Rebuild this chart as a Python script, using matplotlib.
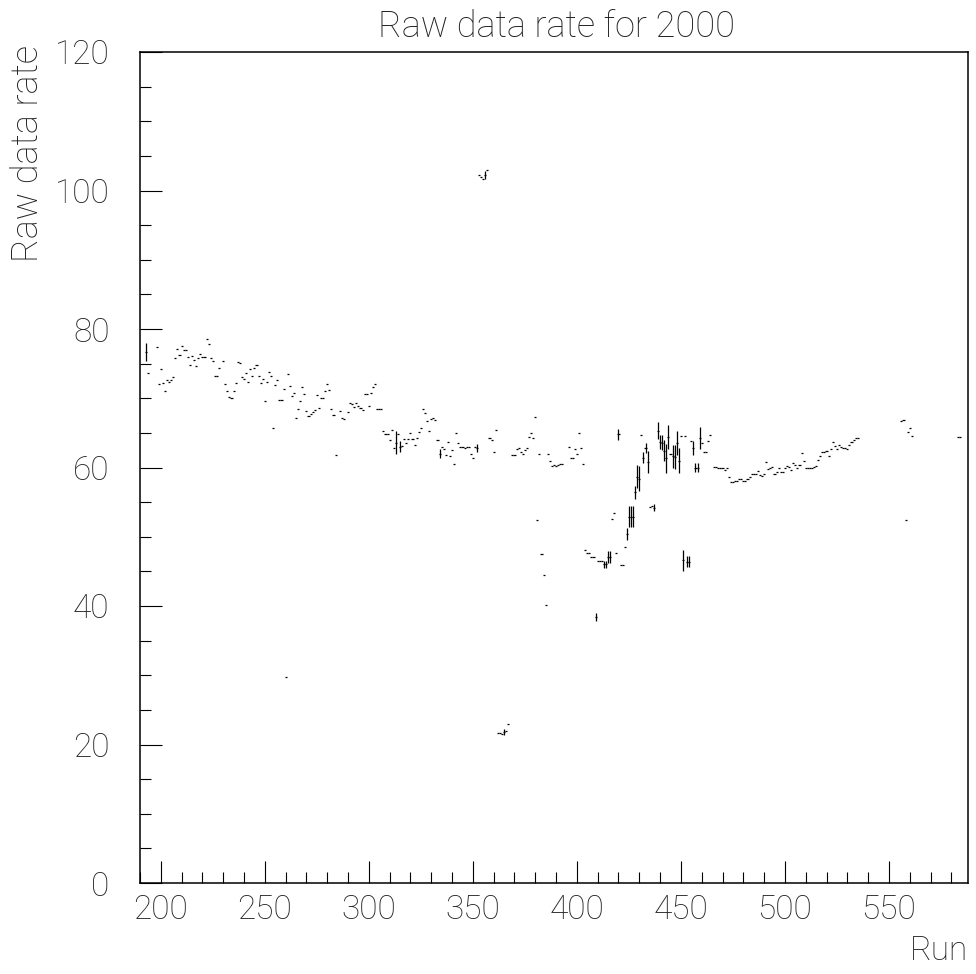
import matplotlib

matplotlib.use("Agg")

import matplotlib.pyplot as plt
import numpy as np
from matplotlib.ticker import MultipleLocator

plt.rcParams["font.family"] = ["Roboto", "DejaVu Sans"]
plt.rcParams["font.weight"] = "light"

# run number, raw data rate, error (0 = no visible bar)
runs = [
    193, 194, 198, 199, 200, 201, 202, 203, 204, 205, 206, 207, 208, 209, 210,
    211, 212, 213, 214, 215, 216, 217, 218, 219, 220, 221, 222, 223, 224, 225,
    226, 227, 228, 230, 231, 232, 233, 234, 235, 236, 237, 238, 239, 240, 241,
    242, 243, 244, 245, 246, 247, 248, 249, 250, 251, 252, 253, 254, 255, 256,
    257, 258, 259, 260, 261, 262, 263, 264, 265, 266, 267, 268, 269, 270, 271,
    272, 273, 274, 275, 276, 277, 278, 279, 280, 281, 282, 283, 284, 286, 287,
    288, 290, 291, 292, 293, 294, 295, 296, 297, 298, 299, 300, 301, 302, 303,
    304, 305, 306, 307, 308, 309, 310, 311, 312, 313, 314, 315, 316, 317, 318,
    319, 320, 321, 322, 323, 324, 325, 326, 327, 328, 329, 330, 331, 332, 333,
    334, 335, 336, 337, 338, 339, 340, 341, 342, 343, 344, 345, 346, 347, 348,
    349, 350, 351, 352, 353, 354, 355, 356, 357, 358, 359, 360, 361, 362, 363,
    364, 365, 366, 367, 369, 370, 371, 372, 373, 374, 375, 376, 377, 378, 379,
    380, 381, 382, 383, 384, 385, 386, 387, 388, 389, 390, 391, 392, 393, 396,
    397, 398, 399, 400, 401, 402, 403, 404, 405, 406, 407, 408, 409, 410, 411,
    412, 413, 414, 415, 416, 417, 418, 419, 420, 421, 422, 423, 424, 425, 426,
    427, 428, 429, 430, 431, 432, 433, 434, 435, 436, 437, 439, 440, 441, 442,
    443, 444, 445, 446, 447, 448, 449, 450, 451, 452, 453, 454, 455, 456, 457,
    458, 459, 460, 461, 462, 463, 464, 466, 467, 468, 469, 470, 471, 472, 473,
    474, 475, 476, 477, 478, 479, 480, 481, 482, 483, 484, 485, 486, 487, 488,
    489, 490, 491, 492, 493, 494, 495, 496, 497, 498, 499, 500, 501, 502, 503,
    504, 505, 506, 507, 508, 509, 510, 511, 512, 513, 514, 515, 516, 517, 518,
    519, 520, 521, 522, 523, 524, 525, 526, 527, 528, 529, 530, 531, 532, 533,
    534, 535, 556, 557, 558, 559, 560, 561, 583, 584,
]
rates = [
    76.7, 73.7, 77.4, 72.1, 74.2, 72.2, 71.1, 72.6, 72.4, 72.7, 73.1, 75.8, 77.1, 76.2, 77.6,
    77.0, 76.9, 76.0, 74.8, 76.1, 75.5, 74.7, 75.8, 76.4, 75.9, 76.0, 78.6, 77.8, 75.8, 75.4,
    73.2, 73.2, 74.3, 75.4, 72.1, 71.0, 70.2, 70.1, 71.1, 72.2, 75.2, 75.1, 73.0, 72.8, 73.7,
    72.4, 74.2, 73.2, 74.4, 74.8, 73.2, 72.2, 72.8, 69.6, 72.3, 73.8, 73.2, 65.7, 71.9, 72.6,
    69.8, 69.7, 71.3, 29.8, 73.5, 71.8, 70.3, 70.8, 67.1, 68.4, 69.6, 71.6, 70.6, 68.1, 67.4,
    67.7, 68.0, 68.3, 70.4, 68.6, 70.1, 70.1, 71.1, 72.0, 71.2, 68.5, 67.6, 61.8, 68.2, 67.2,
    67.0, 68.0, 69.3, 69.2, 68.8, 69.3, 68.9, 68.6, 68.3, 70.6, 70.6, 68.9, 70.8, 71.6, 72.0,
    68.5, 68.5, 68.5, 65.3, 64.9, 64.9, 64.0, 65.4, 62.8, 63.6, 64.9, 63.0, 63.1, 64.1, 63.6,
    64.1, 65.0, 64.1, 63.2, 64.2, 65.1, 65.7, 68.4, 67.9, 66.7, 65.2, 67.0, 67.2, 66.8, 64.0,
    62.0, 62.9, 62.6, 61.8, 63.7, 61.6, 62.5, 60.5, 65.0, 63.6, 63.0, 62.9, 62.8, 63.0, 62.9,
    61.9, 61.4, 62.9, 62.8, 102.3, 101.9, 101.6, 102.2, 102.9, 64.3, 63.9, 62.2, 65.4, 21.7, 21.6,
    21.5, 21.8, 22.0, 23.0, 61.8, 61.8, 62.6, 62.8, 62.2, 61.9, 62.5, 62.8, 64.4, 65.0, 64.3,
    67.3, 52.4, 61.9, 47.5, 44.5, 40.2, 62.0, 61.0, 60.2, 60.4, 60.2, 60.4, 60.5, 60.5, 63.0,
    61.3, 61.3, 62.7, 62.0, 65.0, 62.8, 60.5, 48.1, 47.7, 47.6, 47.1, 47.1, 38.4, 46.5, 46.5,
    46.5, 46.0, 46.0, 47.1, 47.1, 52.6, 53.5, 47.7, 64.8, 45.9, 45.9, 48.5, 50.4, 52.9, 52.9,
    52.9, 56.4, 58.7, 58.4, 64.7, 61.4, 62.8, 60.8, 54.3, 54.4, 54.2, 65.3, 63.7, 63.6, 62.4,
    61.3, 64.4, 61.9, 61.6, 61.5, 63.5, 61.0, 64.6, 46.6, 64.5, 46.4, 46.4, 63.8, 62.8, 60.0,
    60.0, 64.2, 63.6, 62.3, 62.3, 63.8, 64.7, 60.1, 60.1, 60.0, 60.0, 59.9, 59.6, 59.9, 58.6,
    57.9, 57.9, 58.0, 58.1, 58.3, 58.3, 58.0, 58.1, 58.4, 58.6, 59.0, 59.0, 59.0, 59.5, 58.9,
    58.8, 59.0, 60.8, 59.8, 60.0, 60.1, 59.0, 59.3, 60.0, 59.3, 59.4, 60.0, 60.2, 60.1, 59.7,
    60.6, 60.4, 60.0, 60.4, 62.1, 60.9, 60.0, 60.0, 59.9, 60.0, 60.1, 60.2, 61.1, 61.6, 62.3,
    62.2, 62.4, 61.7, 62.6, 63.7, 63.1, 62.7, 63.2, 63.0, 62.8, 62.8, 62.6, 63.3, 63.7, 64.0,
    64.2, 64.3, 66.7, 66.8, 52.4, 65.1, 65.7, 64.5, 64.4, 64.4,
]
# visible error bars, keyed by run
errors = {
    193: 1.3, 313: 1.6, 315: 0.8, 334: 0.6, 352: 0.6, 356: 0.6, 365: 0.5,
    409: 0.6, 413: 0.5, 414: 0.5, 415: 0.9, 416: 0.9, 420: 0.8, 424: 0.8,
    425: 1.5, 426: 1.5, 427: 1.5, 428: 0.9, 429: 1.6, 430: 1.8, 432: 0.8,
    433: 0.7, 434: 1.6, 437: 0.5, 439: 1.2, 440: 1.0, 441: 1.1, 442: 1.5,
    443: 2.1, 444: 1.8, 446: 1.7, 447: 1.7, 448: 1.7, 449: 1.8, 451: 1.5,
    453: 0.8, 454: 0.8, 456: 1.0, 457: 0.6, 458: 0.6, 459: 1.6,
}

x = np.array(runs, dtype=float)
y = np.array(rates)
yerr = np.array([errors.get(r, 0.0) for r in runs])

fig = plt.figure(figsize=(9.76, 9.74), dpi=100)
ax = fig.add_axes([140 / 976, 1 - 883 / 974, 828 / 976, 831 / 974])

ax.errorbar(x, y, xerr=0.5, yerr=yerr, fmt="none", ecolor="black", elinewidth=0.9, capsize=0)

ax.set_xlim(190, 588)
ax.set_ylim(0, 120)
ax.xaxis.set_major_locator(MultipleLocator(50))
ax.xaxis.set_minor_locator(MultipleLocator(10))
ax.yaxis.set_major_locator(MultipleLocator(20))
ax.yaxis.set_minor_locator(MultipleLocator(5))
ax.tick_params(which="both", direction="in", top=False, right=False, width=0.8, colors="black",
               labelsize=24, labelcolor="#222222")
ax.tick_params(axis="x", which="major", length=15.8, pad=8)
ax.tick_params(axis="x", which="minor", length=7.9)
ax.tick_params(axis="y", which="major", length=15.8, pad=22)
ax.tick_params(axis="y", which="minor", length=7.9)
for sp in ax.spines.values():
    sp.set_linewidth(1.1)

fig.text(556 / 976, 1 - 27 / 974, "Raw data rate for 2000", ha="center", va="center",
         fontsize=26, color="#222222")
fig.text(28 / 976, 1 - 45 / 974, "Raw data rate", ha="center", va="top", rotation=90,
         fontsize=26, color="#222222")
fig.text(968 / 976, 1 - 951 / 974, "Run", ha="right", va="center",
         fontsize=24, color="#222222")

fig.savefig("out.png", dpi=100)
